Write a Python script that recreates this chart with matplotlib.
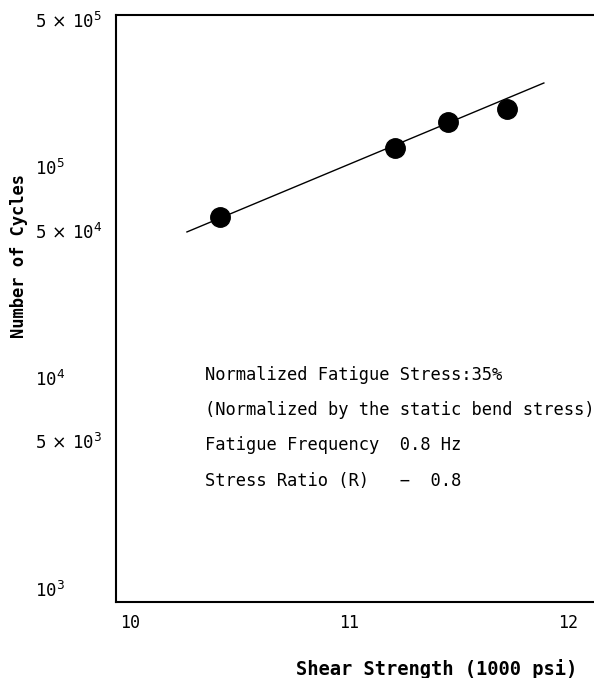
import matplotlib
matplotlib.use("Agg")
import matplotlib.pyplot as plt
import numpy as np

# Data
shear_strength = [10.41, 11.21, 11.45, 11.72]          # 1000 psi
cycles = [57900, 123000, 163000, 188000]
fit_x = [10.26, 11.89]
fit_y = [49200, 250000]

x_ticks = [10, 11, 12]
x_ticklabels = ["10", "11", "12"]
y_ticks = [1e3, 5e3, 1e4, 5e4, 1e5, 5e5]
y_ticklabels = [r"10$^{3}$", r"5$\,\times\,$10$^{3}$", r"10$^{4}$",
                r"5$\,\times\,$10$^{4}$", r"10$^{5}$", r"5$\,\times\,$10$^{5}$"]

notes = ["Normalized Fatigue Stress:35%",
         "(Normalized by the static bend stress)",
         "Fatigue Frequency  0.8 Hz",
         "Stress Ratio (R)   \u2212  0.8"]

plt.rcParams['font.family'] = ['DejaVu Sans Mono', 'DejaVu Sans']
plt.rcParams['mathtext.fontset'] = 'dejavusans'

W, H = 594, 678
fig = plt.figure(figsize=(W / 100, H / 100), dpi=100)
left, right, top, bottom = 116, 594, 15, 602
ax = fig.add_axes([left / W, 1 - bottom / H, (right - left) / W, (bottom - top) / H])

ax.set_yscale('log')
ax.set_xlim(9.936, 12.119)
ax.set_ylim(867, 5.25e5)

ax.plot(fit_x, fit_y, color='black', lw=1.0, zorder=2)
ax.plot(shear_strength, cycles, 'o', color='black', ms=14, zorder=3)

for s in ['left', 'bottom', 'top']:
    ax.spines[s].set_linewidth(1.5)
ax.spines['right'].set_visible(False)

ax.set_xticks(x_ticks)
ax.set_xticklabels(x_ticklabels, fontsize=12)
ax.set_yticks(y_ticks)
ax.set_yticklabels(y_ticklabels, fontsize=12.5)
ax.yaxis.set_minor_locator(matplotlib.ticker.NullLocator())
ax.tick_params(axis='x', length=0, pad=9)
ax.tick_params(axis='y', length=0, pad=58)
for lab in ax.get_yticklabels():
    lab.set_horizontalalignment('left')

fig.text(437 / W, 1 - 669 / H, "Shear Strength (1000 psi)", fontsize=13.5,
         fontweight='bold', ha='center', va='center')
fig.text(19 / W, 1 - 256 / H, "Number of Cycles", fontsize=12.3,
         fontweight='bold', ha='center', va='center', rotation=90)

note_y = [375, 410, 445, 481]
for t, yy in zip(notes, note_y):
    fig.text(205 / W, 1 - yy / H, t, fontsize=12.3, ha='left', va='center')

fig.savefig("out.png", dpi=100)
